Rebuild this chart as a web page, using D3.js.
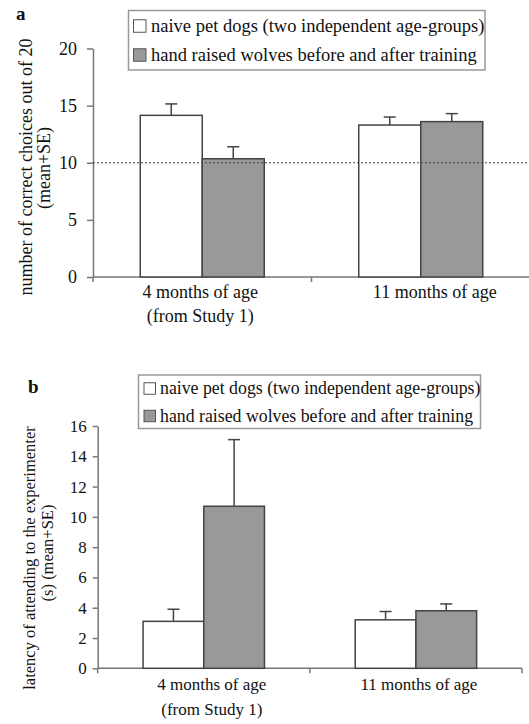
<!DOCTYPE html>
<html><head><meta charset="utf-8">
<script src="https://cdn.jsdelivr.net/npm/d3@7"></script>
<style>
html,body{margin:0;padding:0;background:#fff;}
svg text{font-family:"Liberation Serif","Times New Roman",serif;fill:#111;}
</style></head>
<body>
<svg id="chart" width="529" height="724"></svg>
<script>
// ---------- data ----------
const categories = ["4 months of age", "11 months of age"];
const categorySub = ["(from Study 1)", ""];
const seriesNames = ["naive pet dogs (two independent age-groups)", "hand raised wolves before and after training"];

// Panel a: number of correct choices out of 20
const aDogsMean   = [14.15, 13.3];
const aDogsSE     = [1.0, 0.7];
const aWolvesMean = [10.35, 13.6];
const aWolvesSE   = [1.05, 0.7];
const aTicks = [0, 5, 10, 15, 20];
const aChance = 10;

// Panel b: latency of attending to the experimenter (s)
const bDogsMean   = [3.1, 3.2];
const bDogsSE     = [0.8, 0.55];
const bWolvesMean = [10.7, 3.8];
const bWolvesSE   = [4.4, 0.45];
const bTicks = [0, 2, 4, 6, 8, 10, 12, 14, 16];

// ---------- drawing ----------
const svg = d3.select("#chart");
const fills = ["#ffffff", "#999999"];
const barStroke = "#444";
const axisColor = "#777";

function panel(cfg) {
  const g = svg.append("g");
  const y = d3.scaleLinear().domain([0, cfg.yMax]).range([cfg.y0, cfg.yTop]);
  const x = d3.scaleBand().domain(categories).range([cfg.xLeft, cfg.xRight]).paddingInner(0).paddingOuter(0);

  // y axis
  const yAxis = d3.axisLeft(y).tickValues(cfg.ticks).tickSize(cfg.tickLen).tickPadding(cfg.tickPad).tickSizeOuter(0);
  const ya = g.append("g").attr("transform", `translate(${cfg.xLeft},0)`).call(yAxis);
  ya.select(".domain").attr("stroke", axisColor).attr("stroke-width", 1.5);
  ya.selectAll(".tick line").attr("stroke", axisColor).attr("stroke-width", 1.5);
  ya.selectAll(".tick text").attr("font-size", cfg.fs);

  // x axis line with category boundary ticks
  g.append("line").attr("x1", cfg.xLeft).attr("x2", cfg.xRight).attr("y1", y(0)).attr("y2", y(0))
    .attr("stroke", axisColor).attr("stroke-width", 1.5);
  const bounds = categories.map(c => x(c)).concat([x(categories[categories.length - 1]) + x.bandwidth()]);
  g.selectAll(".xb").data(bounds).join("line")
    .attr("x1", d => d).attr("x2", d => d).attr("y1", y(0)).attr("y2", y(0) + 5)
    .attr("stroke", axisColor).attr("stroke-width", 1.5);

  // bars
  const series = [
    { mean: cfg.dogsMean, se: cfg.dogsSE, off: -1 },
    { mean: cfg.wolvesMean, se: cfg.wolvesSE, off: 0 }
  ];
  series.forEach((s, si) => {
    const data = categories.map((c, i) => ({ c, m: s.mean[i], e: s.se[i] }));
    const cx = d => x(d.c) + x.bandwidth() / 2 + s.off * cfg.barW;
    g.selectAll(null).data(data).join("line")
      .attr("x1", d => cx(d) + cfg.barW / 2).attr("x2", d => cx(d) + cfg.barW / 2)
      .attr("y1", d => y(d.m)).attr("y2", d => y(d.m + d.e))
      .attr("stroke", barStroke).attr("stroke-width", 1.5);
    g.selectAll(null).data(data).join("line")
      .attr("x1", d => cx(d) + cfg.barW / 2 - cfg.cap / 2).attr("x2", d => cx(d) + cfg.barW / 2 + cfg.cap / 2)
      .attr("y1", d => y(d.m + d.e)).attr("y2", d => y(d.m + d.e))
      .attr("stroke", barStroke).attr("stroke-width", 1.5);
    g.selectAll(null).data(data).join("rect")
      .attr("x", d => cx(d)).attr("width", cfg.barW)
      .attr("y", d => y(d.m)).attr("height", d => y(0) - y(d.m))
      .attr("fill", fills[si]).attr("stroke", barStroke).attr("stroke-width", 1.5);
  });
  // chance line drawn over the bars
  if (cfg.chance !== undefined) {
    g.append("line").attr("x1", cfg.xLeft).attr("x2", 529).attr("y1", y(cfg.chance)).attr("y2", y(cfg.chance))
      .attr("stroke", "#444").attr("stroke-width", 1).attr("stroke-dasharray", "2,2");
  }

  // category labels
  categories.forEach((c, i) => {
    const lx = x(c) + x.bandwidth() / 2 + cfg.labelDx[i];
    g.append("text").attr("x", lx).attr("y", cfg.lab1Y).attr("text-anchor", "middle").attr("font-size", cfg.fs).text(c);
    if (categorySub[i]) g.append("text").attr("x", lx).attr("y", cfg.lab2Y).attr("text-anchor", "middle").attr("font-size", cfg.fs).text(categorySub[i]);
  });

  // y title
  cfg.title.forEach(t => {
    g.append("text").attr("transform", `translate(${t.x},${t.cy}) rotate(-90)`)
      .attr("text-anchor", "middle").attr("font-size", cfg.titleFs).text(t.text);
  });

  // panel letter
  g.append("text").attr("x", cfg.letter.x).attr("y", cfg.letter.y).attr("font-weight", "bold")
    .attr("font-size", 19).text(cfg.letter.t);

  // legend
  const L = cfg.legend;
  g.append("rect").attr("x", L.x).attr("y", L.y).attr("width", L.w).attr("height", L.h)
    .attr("fill", "#fff").attr("stroke", "#999").attr("stroke-width", 1.5);
  seriesNames.forEach((n, i) => {
    const ry = L.rows[i];
    g.append("rect").attr("x", L.sx).attr("y", ry - L.ss / 2).attr("width", L.ss).attr("height", L.ss)
      .attr("fill", fills[i]).attr("stroke", "#555").attr("stroke-width", 1);
    g.append("text").attr("x", L.tx).attr("y", ry).attr("dy", "0.33em").attr("font-size", L.fs).text(n);
  });
}

panel({
  yMax: 20, y0: 277, yTop: 48.5, xLeft: 93, xRight: 530, ticks: aTicks, tickLen: 6, tickPad: 10,
  fs: 18, titleFs: 18, barW: 62, cap: 12,
  dogsMean: aDogsMean, dogsSE: aDogsSE, wolvesMean: aWolvesMean, wolvesSE: aWolvesSE, chance: aChance,
  labelDx: [-2, 14], lab1Y: 298, lab2Y: 322,
  title: [{ text: "number of correct choices out of 20", x: 32, cy: 167 }, { text: "(mean+SE)", x: 50, cy: 168 }],
  letter: { t: "a", x: 16, y: 20 },
  legend: { x: 128.5, y: 10.5, w: 356.5, h: 59.5, rows: [26, 55], sx: 133.5, ss: 12.5, tx: 151, fs: 18.5 }
});

panel({
  yMax: 16, y0: 668.3, yTop: 426, xLeft: 97.7, xRight: 522, ticks: bTicks, tickLen: 5, tickPad: 6,
  fs: 17, titleFs: 16.5, barW: 60.7, cap: 12,
  dogsMean: bDogsMean, dogsSE: bDogsSE, wolvesMean: bWolvesMean, wolvesSE: bWolvesSE,
  labelDx: [8, 3], lab1Y: 690, lab2Y: 715,
  title: [{ text: "latency of attending  to the experimenter", x: 35, cy: 558 }, { text: "(s) (mean+SE)", x: 53, cy: 553 }],
  letter: { t: "b", x: 28, y: 392.5 },
  legend: { x: 138.5, y: 375, w: 342, h: 53.5, rows: [388.5, 416], sx: 144, ss: 11.5, tx: 160, fs: 17.8 }
});
</script>
</body></html>
